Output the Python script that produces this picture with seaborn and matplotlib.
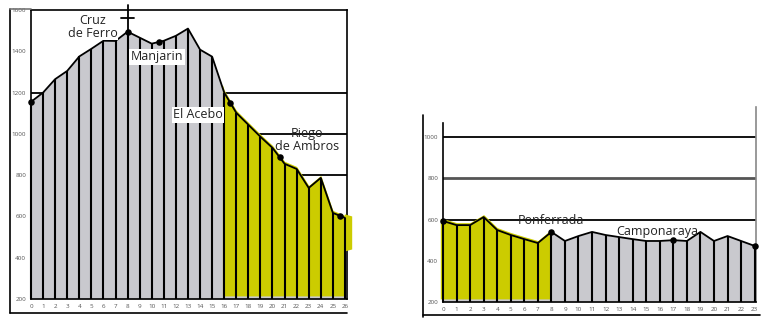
import numpy as np
import pandas as pd
import seaborn as sns
import matplotlib
matplotlib.use("Agg")
import matplotlib.pyplot as plt
from matplotlib.lines import Line2D
from matplotlib.patches import Polygon

sns.set_style("white")
plt.rcParams['font.family'] = ['Open Sans', 'DejaVu Sans']

# ---------------- data ----------------
left_km = list(range(27))
left_elev = [1155, 1200, 1265, 1305, 1375, 1412, 1451, 1450, 1495, 1466, 1437, 1451,
             1475, 1510, 1408, 1374, 1200, 1102, 1044, 986, 932, 855, 830, 738, 787, 617, 593]
left_towns = ["Cruz\nde Ferro", "Manjarin", "El Acebo", "Riego\nde Ambros"]
left_town_km = [0, 8, 10.6, 16.5, 20.6, 25.6]
left_yticks = [200, 400, 600, 800, 1000, 1200, 1400, 1600]
left_grid = [800, 1000, 1200]

right_km = list(range(24))
right_elev = [593, 573, 573, 612, 549, 525, 505, 486, 540, 496, 520, 540, 525, 515,
              505, 496, 496, 500, 496, 540, 496, 520, 496, 472]
right_towns = ["Ponferrada", "Camponaraya"]
right_town_km = [0, 8, 17, 23]
right_yticks = [200, 400, 600, 800, 1000]
right_grid = [600, 800, 1000]

GREY = '#c9c9ce'
YELLOW = '#cccc00'
W, H = 765, 322

fig = plt.figure(figsize=(W / 100, H / 100), dpi=100)
fig.patch.set_facecolor('white')

def fx(px):
    return px / W

def fy(py):
    return (H - py) / H

axL = fig.add_axes([fx(31), fy(299), 316 / W, 289 / H])
axR = fig.add_axes([fx(443), fy(302), 313 / W, 195 / H])


def profile(ax, km, elev, hl_range, grid, yticks, xlim, ylim):
    km = np.asarray(km, float)
    elev = np.asarray(elev, float)
    for g in grid:
        ax.axhline(g, color='black' if g != 800 or ax is axL else '#555555',
                   lw=1.3 if g != 800 or ax is axL else 2.0, zorder=1)
    ax.fill_between(km, ylim[0], elev, color=GREY, lw=0, zorder=2)
    # highlighter
    x0, x1 = hl_range
    xs = np.linspace(x0, x1, 200)
    top = np.interp(xs, km, elev) + 12
    ax.fill_between(xs, 215, top, color=YELLOW, lw=0, zorder=3)
    ax.vlines(km, ylim[0], elev, color='black', lw=1.5, zorder=4)
    sns.lineplot(x=km, y=elev, ax=ax, color='black', lw=1.3, zorder=5)
    ax.set_xlim(*xlim)
    ax.set_ylim(*ylim)
    ax.set_xticks(km)
    ax.set_xticklabels([str(int(k)) for k in km])
    ax.set_yticks(yticks)
    ax.set_yticklabels([str(t) for t in yticks])
    ax.tick_params(axis='both', labelsize=4.5, labelcolor='#555555', length=3,
                   width=1, color='black', direction='inout', pad=2)
    ax.grid(False)
    ax.set_facecolor('none')
    for s in ax.spines.values():
        s.set_color('black')
        s.set_linewidth(1.2)


profile(axL, left_km, left_elev, (15.85, 26.0), left_grid, left_yticks,
        (0, 26.17), (200, 1600))
profile(axR, right_km, right_elev, (-0.2, 8.0), right_grid, right_yticks,
        (0, 23.1), (200, 1146))

# highlight overflow on the left panel
axL.add_patch(Polygon([[26, 610], [26.6, 600], [26.6, 440], [26, 430]],
                      closed=True, color=YELLOW, lw=0, zorder=3, clip_on=False))

# right panel spines
axR.spines['top'].set_visible(False)
axR.spines['left'].set_bounds(200, 1070)
axR.spines['right'].set_color('#888888')

# town dots
lx = np.asarray(left_town_km)
sns.scatterplot(x=lx, y=np.interp(lx, left_km, left_elev), ax=axL, s=22,
                color='black', zorder=6, linewidth=0, legend=False)
rx = np.asarray(right_town_km)
sns.scatterplot(x=rx, y=np.interp(rx, right_km, right_elev), ax=axR, s=22,
                color='black', zorder=6, linewidth=0, legend=False)
for a in (axL, axR):
    for c in a.collections:
        c.set_clip_on(False)

# cross at Cruz de Ferro
axL.plot([8, 8], [left_elev[8], 1625], color='black', lw=1.3, zorder=6, clip_on=False)
axL.plot([7.45, 8.55], [1563, 1563], color='black', lw=1.3, zorder=6, clip_on=False)

# labels
fs = 9
axL.text(5.14, 1519, left_towns[0], ha='center', va='center', fontsize=fs,
         linespacing=1.0, zorder=7, color='#222222',
         bbox=dict(facecolor='white', edgecolor='none', pad=0.2))
axL.text(10.44, 1374, left_towns[1], ha='center', va='center', fontsize=fs, zorder=7,
         color='#222222', bbox=dict(facecolor='white', edgecolor='none', pad=1.0))
axL.text(13.84, 1092, left_towns[2], ha='center', va='center', fontsize=fs, zorder=7,
         color='#222222', bbox=dict(facecolor='white', edgecolor='none', pad=1.0))
axL.text(22.87, 971, left_towns[3], ha='center', va='center', fontsize=fs,
         linespacing=1.0, zorder=7, color='#222222')
axR.text(7.97, 593, right_towns[0], ha='center', va='center', fontsize=fs, zorder=7,
         color='#222222')
axR.text(15.8, 544, right_towns[1], ha='center', va='center', fontsize=fs, zorder=7,
         color='#222222')

# outer frame lines
def fline(x0, y0, x1, y1, color='black', lw=1.2):
    fig.add_artist(Line2D([fx(x0), fx(x1)], [fy(y0), fy(y1)], color=color, lw=lw))

fline(10, 9, 10, 313)
fline(10, 313, 347, 313)
fline(10, 9, 31, 9, color='#777777')
fline(423, 115, 423, 317)
fline(423, 315, 760, 315)

fig.savefig('out.png', dpi=100, facecolor='white')
